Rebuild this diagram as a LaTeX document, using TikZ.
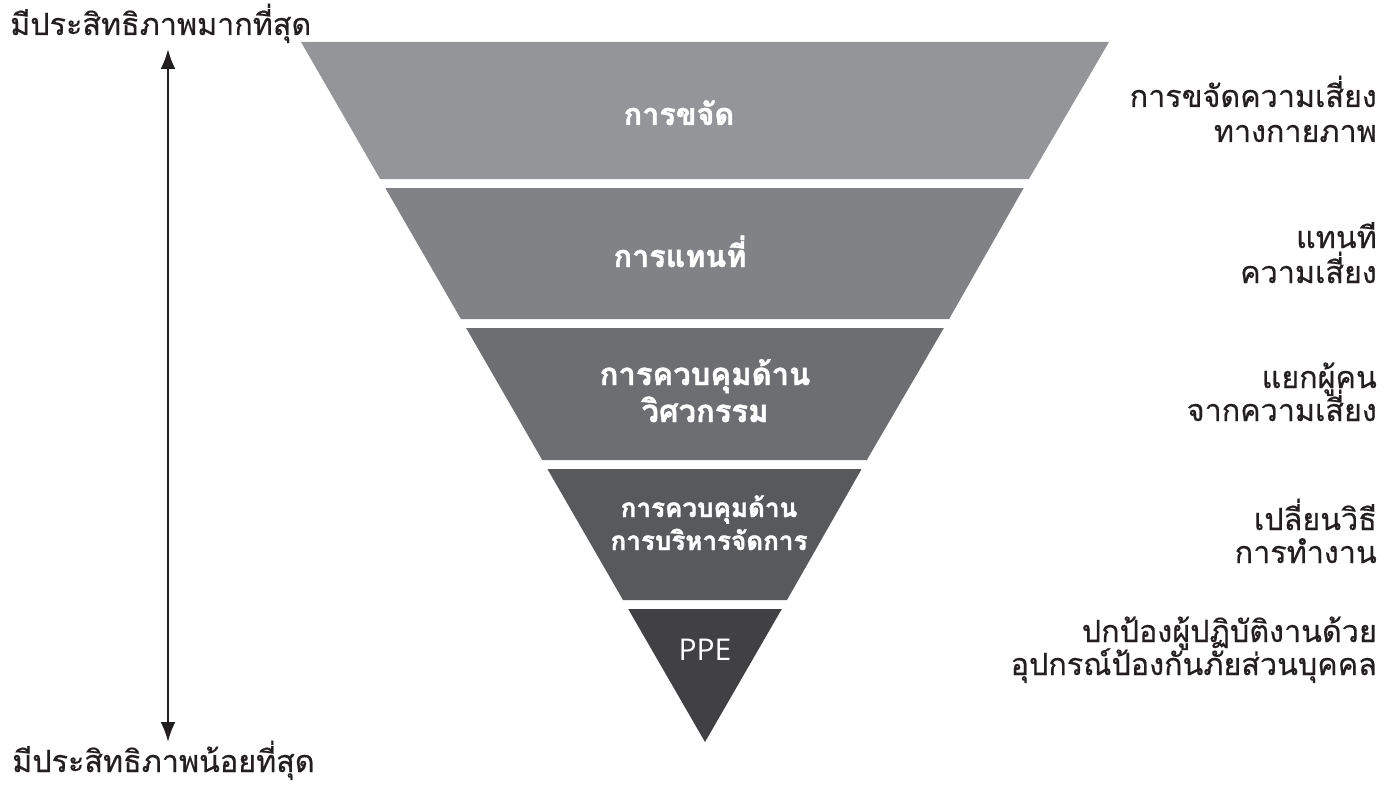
\documentclass[tikz,border=0pt]{standalone}
\usepackage{fontspec}
\usetikzlibrary{arrows.meta}
\newfontfamily\thai[Script=Thai, FakeBold=0.5]{Loma}
\newfontfamily\thaiheavy[Script=Thai, BoldFeatures={FakeBold=1.4}]{Loma}
\newfontfamily\ppefont{Open Sans}
\definecolor{bandA}{HTML}{939598}
\definecolor{bandB}{HTML}{808285}
\definecolor{bandC}{HTML}{6D6E71}
\definecolor{bandD}{HTML}{58595B}
\definecolor{bandE}{HTML}{414042}
\definecolor{ink}{HTML}{231F20}
\tikzset{
  band/.style={draw=none},
  inlabel/.style={text=white, font=\thaiheavy\bfseries\fontsize{30.5}{32}\selectfont, anchor=base, inner sep=0pt},
  biglabel/.style={text=white, font=\thaiheavy\bfseries\fontsize{31}{33}\selectfont, anchor=base, inner sep=0pt},
  smalllabel/.style={text=white, font=\thaiheavy\bfseries\fontsize{26}{28}\selectfont, anchor=base, inner sep=0pt},
  rlabel/.style={text=ink, font=\thai\fontsize{30.5}{32}\selectfont, anchor=base east, inner sep=0pt},
  llabel/.style={text=ink, font=\thai\fontsize{30.5}{32}\selectfont, anchor=base west, inner sep=0pt},
  axis/.style={draw=ink, line width=2.5pt, {Latex[length=20pt,width=15pt]}-{Latex[length=20pt,width=15pt]}}
}
\begin{document}
\begin{tikzpicture}[x=1pt,y=-1pt]
\useasboundingbox (0,0) rectangle (1392,789);
% bands
\fill[band, bandA] (301,42) -- (1109,42) -- (1028.9,179) -- (380.1,179) -- cycle;
\fill[band, bandB] (385.3,188) -- (1023.7,188) -- (949.1,319) -- (460.9,319) -- cycle;
\fill[band, bandC] (466.1,328) -- (943.9,328) -- (866.8,460) -- (542.2,460) -- cycle;
\fill[band, bandD] (547.4,469) -- (861.6,469) -- (787.0,600) -- (623.0,600) -- cycle;
\fill[band, bandE] (628.2,609) -- (781.8,609) -- (705,742) -- cycle;
% inner labels
\node[inlabel] (b1) at (679,125) {การขจัด};
\node[inlabel] (b2) at (680,267) {การแทนที่};
\node[biglabel] (b3a) at (705,385) {การควบคุมด้าน};
\node[biglabel] (b3b) at (705,422) {วิศวกรรม};
\node[smalllabel] (b4a) at (709,517) {การควบคุมด้าน};
\node[smalllabel] (b4b) at (709,550) {การบริหารจัดการ};
\node[text=white, font=\ppefont\fontsize{30}{32}\selectfont, anchor=base, inner sep=0pt] (b5) at (705,660) {PPE};
% right labels
\node[rlabel] (r1a) at (1377,107) {การขจัดความเสี่ยง};
\node[rlabel] (r1b) at (1377,142) {ทางกายภาพ};
\node[rlabel] (r2a) at (1377,248) {แทนที};
\node[rlabel] (r2b) at (1377,283) {ความเสี่ยง};
\node[rlabel] (r3a) at (1377,388) {แยกผู้คน};
\node[rlabel] (r3b) at (1377,421) {จากความเสี่ยง};
\node[rlabel] (r4a) at (1377,530) {เปลี่ยนวิธี};
\node[rlabel] (r4b) at (1377,563) {การทำงาน};
\node[rlabel] (r5a) at (1377,642) {ปกป้องผู้ปฏิบัติงานด้วย};
\node[rlabel] (r5b) at (1377,675) {อุปกรณ์ป้องกันภัยส่วนบุคคล};
% left labels and axis
\node[llabel] (top) at (10,35) {มีประสิทธิภาพมากที่สุด};
\node[llabel] (bot) at (12,772) {มีประสิทธิภาพน้อยที่สุด};
\coordinate (ahi) at (168,49);
\coordinate (alo) at (168,742);
\draw[axis] (ahi) -- (alo);
\end{tikzpicture}
\end{document}
